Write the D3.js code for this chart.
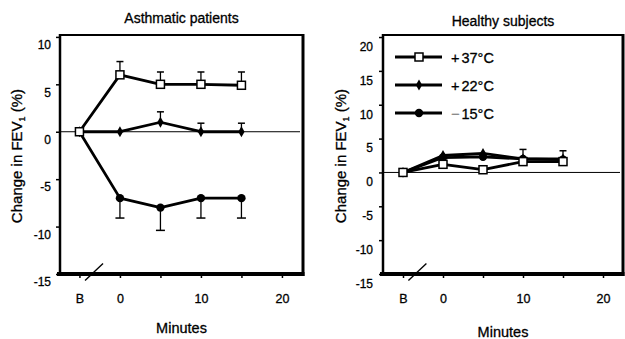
<!DOCTYPE html>
<html>
<head>
<meta charset="utf-8">
<script src="https://cdn.jsdelivr.net/npm/d3@7"></script>
<style>
  body { margin: 0; background: #fff; }
  svg { font-family: "Liberation Sans", Arial, sans-serif; }
  svg text { stroke: #000; stroke-width: 0.3px; }
</style>
</head>
<body>
<svg id="chart" width="625" height="339"></svg>
<script>
// time points: 'B' (baseline) is drawn at -5 minutes, then 0..15 minutes
const timeLabels = ['B', '0', '5', '10', '15'];
const timePos = [-5, 0, 5, 10, 15];

const seriesNames = ['+37°C', '+22°C', '\u221215°C'];

// Asthmatic patients, change in FEV1 (%)
const asthma37 = [0, 6.0, 5.0, 5.0, 4.9];
const asthma37Err = [0, 1.4, 1.3, 1.3, 1.4];
const asthma22 = [0, 0, 1.0, 0, 0];
const asthma22Err = [0, 0, 1.1, 0.9, 0.9];
const asthma15 = [0, -7.0, -8.0, -7.0, -7.0];
const asthma15Err = [0, 2.1, 2.4, 2.1, 2.1];

// Healthy subjects, change in FEV1 (%)
const healthy37 = [0, 1.2, 0.4, 1.6, 1.6];
const healthy37Err = [0, 0, 0, 0, 0];
const healthy22 = [0, 2.5, 2.8, 2.0, 2.0];
const healthy22Err = [0, 0, 0, 1.4, 1.2];
const healthy15 = [0, 2.2, 2.3, 2.0, 1.9];
const healthy15Err = [0, 0, 0, 0, 0];

const asthmaYTicks = [10, 5, 0, -5, -10, -15];
const healthyYTicks = [20, 15, 10, 5, 0, -5, -10, -15];
const xTicks = [-5, 0, 5, 10, 15, 20];
const xTickText = { '-5': 'B', '0': '0', '10': '10', '20': '20' };

const svg = d3.select('#chart');

function makeSeries(values, errors, dir) {
  return values.map((v, i) => ({ t: timePos[i], v: v, e: errors[i], dir: dir }));
}

function drawMarker(sel, kind) {
  if (kind === 'square') {
    sel.append('rect')
      .attr('x', -4).attr('y', -4).attr('width', 8).attr('height', 8)
      .attr('fill', '#fff').attr('stroke', '#000').attr('stroke-width', 1.5);
  } else if (kind === 'diamond') {
    sel.append('path')
      .attr('d', d3.symbol(d3.symbolDiamond, 34)())
      .attr('fill', '#000');
  } else {
    sel.append('circle').attr('r', 4.2).attr('fill', '#000');
  }
}

function drawPanel(cfg, seriesList) {
  const x = d3.scaleLinear().domain(cfg.xDomain).range([cfg.left, cfg.right]);
  const y = d3.scaleLinear().domain(cfg.yDomain).range([cfg.bottom, cfg.top]);
  const g = svg.append('g');

  // zero reference line
  g.append('line')
    .attr('x1', cfg.left).attr('x2', cfg.right - 3)
    .attr('y1', y(0)).attr('y2', y(0))
    .attr('stroke', '#000').attr('stroke-width', 1);

  // y axis
  const yAxis = d3.axisLeft(y).tickValues(cfg.yTicks).tickSize(4).tickPadding(cfg.yPad)
    .tickFormat(d => d < 0 ? '-' + Math.abs(d) : String(d));
  const ya = g.append('g').attr('transform', `translate(${cfg.left},0)`).call(yAxis);
  ya.select('.domain').remove();
  ya.selectAll('line').attr('stroke-width', 1.5);
  ya.selectAll('text').attr('font-size', 12).attr('y', cfg.labelShift).attr('fill', '#000');

  // x axis
  const xAxis = d3.axisBottom(x).tickValues(xTicks).tickSize(4).tickPadding(16)
    .tickFormat(d => xTickText[String(d)] || '');
  const xa = g.append('g').attr('transform', `translate(0,${cfg.bottom})`).call(xAxis);
  xa.select('.domain').remove();
  xa.selectAll('line').attr('stroke-width', 1.5);
  xa.selectAll('text').attr('font-size', 12.5).attr('fill', '#000');

  // frame
  const frame = [
    [cfg.left, cfg.top, cfg.right, cfg.top, 2],
    [cfg.left, cfg.top - 1, cfg.left, cfg.bottom + 1, 2.5],
    [cfg.right, cfg.top - 1, cfg.right, cfg.bottom + 2, 3],
    [cfg.left - 3, cfg.bottom, cfg.right + 1.5, cfg.bottom, 4]
  ];
  g.selectAll('line.frame').data(frame).enter().append('line')
    .attr('class', 'frame')
    .attr('x1', d => d[0]).attr('y1', d => d[1])
    .attr('x2', d => d[2]).attr('y2', d => d[3])
    .attr('stroke', '#000').attr('stroke-width', d => d[4]);

  // axis break between B and 0
  const bx = x(-3.2), by = y(cfg.yDomain[0]) - 2;
  g.append('line')
    .attr('x1', bx - 9).attr('y1', by + 8.5)
    .attr('x2', bx + 9).attr('y2', by - 8.5)
    .attr('stroke', '#000').attr('stroke-width', 1.4);

  const line = d3.line().x(d => x(d.t)).y(d => y(d.v));

  // error bars
  seriesList.forEach(s => {
    const bars = s.data.filter(d => d.e > 0);
    g.selectAll(null).data(bars).enter().append('line')
      .attr('x1', d => x(d.t)).attr('x2', d => x(d.t))
      .attr('y1', d => y(d.v)).attr('y2', d => y(d.v + d.dir * d.e))
      .attr('stroke', '#000').attr('stroke-width', 1.3);
    g.selectAll(null).data(bars).enter().append('line')
      .attr('x1', d => x(d.t) - s.cap).attr('x2', d => x(d.t) + s.cap)
      .attr('y1', d => y(d.v + d.dir * d.e)).attr('y2', d => y(d.v + d.dir * d.e))
      .attr('stroke', '#000').attr('stroke-width', 1.5);
  });

  // lines
  seriesList.forEach(s => {
    g.append('path').datum(s.data)
      .attr('d', line)
      .attr('fill', 'none').attr('stroke', '#000')
      .attr('stroke-width', 2.8).attr('stroke-linejoin', 'round');
  });

  // markers
  seriesList.forEach(s => {
    g.selectAll(null).data(s.data).enter().append('g')
      .attr('transform', d => `translate(${x(d.t)},${y(d.v)})`)
      .each(function () { drawMarker(d3.select(this), s.marker); });
  });

  // titles
  g.append('text')
    .attr('x', (cfg.left + cfg.right) / 2).attr('y', cfg.titleY)
    .attr('text-anchor', 'middle').attr('font-size', 14)
    .text(cfg.title);

  g.append('text')
    .attr('x', (cfg.left + cfg.right) / 2).attr('y', cfg.minutesY)
    .attr('text-anchor', 'middle').attr('font-size', 14.5)
    .text('Minutes');

  const yt = g.append('text')
    .attr('transform', `translate(${cfg.yTitleX},156) rotate(-90)`)
    .attr('text-anchor', 'middle').attr('font-size', 15);
  yt.append('tspan').text('Change in FEV');
  yt.append('tspan').attr('font-size', 9).attr('dy', 3).text('1');
  yt.append('tspan').attr('dy', -3).text(' (%)');

  return g;
}

drawPanel({
  title: 'Asthmatic patients',
  left: 60, right: 303, top: 35, bottom: 274,
  xDomain: [-7.4, 22.6], yDomain: [-15, 10.2],
  yTicks: asthmaYTicks, yPad: 5, labelShift: 8,
  titleY: 23, minutesY: 333, yTitleX: 22
}, [
  { data: makeSeries(asthma15, asthma15Err, -1), marker: 'circle', cap: 4.5 },
  { data: makeSeries(asthma22, asthma22Err, 1), marker: 'diamond', cap: 3.5 },
  { data: makeSeries(asthma37, asthma37Err, 1), marker: 'square', cap: 3.5 }
]);

const right = drawPanel({
  title: 'Healthy subjects',
  left: 383, right: 623, top: 35, bottom: 274,
  xDomain: [-7.5, 22.5], yDomain: [-15, 20.3],
  yTicks: healthyYTicks, yPad: 6, labelShift: 9.5,
  titleY: 26, minutesY: 337, yTitleX: 346
}, [
  { data: makeSeries(healthy15, healthy15Err, 1), marker: 'circle', cap: 3.5 },
  { data: makeSeries(healthy22, healthy22Err, 1), marker: 'diamond', cap: 3.5 },
  { data: makeSeries(healthy37, healthy37Err, 1), marker: 'square', cap: 3.5 }
]);

// legend
const legendMarkers = ['square', 'diamond', 'circle'];
const legend = right.selectAll('g.legend').data(seriesNames).enter().append('g')
  .attr('class', 'legend')
  .attr('transform', (d, i) => `translate(395,${57 + i * 28})`);
legend.append('line')
  .attr('x1', 0).attr('x2', 47).attr('y1', 0).attr('y2', 0)
  .attr('stroke', '#000').attr('stroke-width', 2.8);
legend.each(function (d, i) {
  const m = d3.select(this).append('g').attr('transform', 'translate(24,0)');
  drawMarker(m, legendMarkers[i]);
});
legend.append('text')
  .attr('x', 56).attr('y', 5.5).attr('font-size', 14.5)
  .each(function (d) {
    const t = d3.select(this);
    const isPlus = d.startsWith('+');
    t.append('tspan')
      .attr('fill', isPlus ? '#000' : '#888')
      .style('stroke', isPlus ? '#000' : '#888')
      .text(d.charAt(0));
    t.append('tspan').attr('dx', 2).text(d.slice(1));
  });
</script>
</body>
</html>
